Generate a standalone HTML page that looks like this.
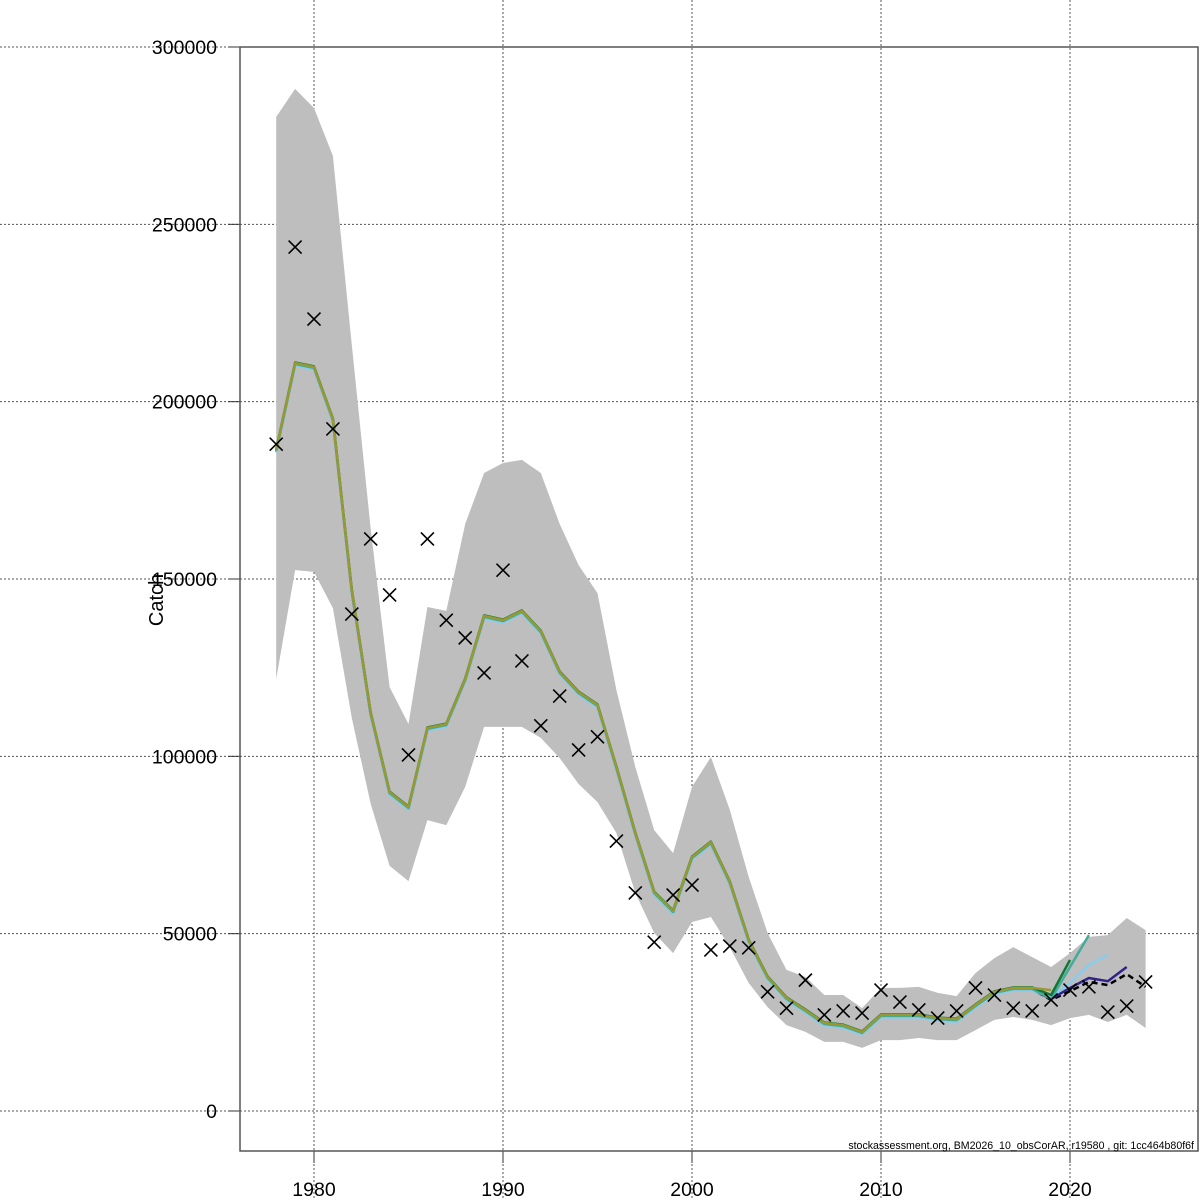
<!DOCTYPE html>
<html><head><meta charset="utf-8"><style>
html,body{margin:0;padding:0;background:#fff;}
svg{display:block;font-family:"Liberation Sans",sans-serif;}
</style></head><body>
<svg id="chart" width="1200" height="1200" viewBox="0 0 1200 1200">
<rect x="0" y="0" width="1200" height="1200" fill="#fff"/>
<g id="grid"></g>
<g id="band"></g>
<g id="lines"></g>
<g id="obs"></g>
<g id="axes"></g>
<text x="163" y="600" font-size="20" text-anchor="middle" transform="rotate(-90 163 600)">Catch</text>
<text x="1194" y="1149" font-size="10.6" text-anchor="end">stockassessment.org, BM2026_10_obsCorAR, r19580 , git: 1cc464b80f6f</text>
</svg>
<script>
const years = [];
for (let y = 1978; y <= 2024; y++) years.push(y);
const obsValues = [188,243.6,223.3,192.3,140.1,161.3,145.5,100.4,161.3,138.4,133.4,123.5,152.5,126.9,108.6,117,101.8,105.5,76.1,61.5,47.6,60.9,63.7,45.4,46.5,46,33.6,29,36.9,27.1,28.2,27.6,34.1,30.7,28.5,26.2,28.2,34.7,32.7,29,28.2,31.3,34.1,35,27.9,29.6,36.4];
const upperValues = [280.3,288.2,282.8,269.3,216,164.1,119.5,109.1,142.1,141,165.5,179.9,182.7,183.6,179.9,165.5,153.9,146,118.7,97,79.2,72.7,91.4,99.8,84.9,66,50.2,39.8,37.8,32.7,32.7,29,34.7,34.7,35,33.3,32.4,38.9,43.1,46.2,43.4,40.6,44.5,49.1,49.6,54.4,51];
const lowerValues = [121.8,152.5,152,141.8,110.8,86.6,69.1,64.8,82,80.6,91.4,108.3,108.3,108.3,105.2,99.5,92.2,87.1,78.4,61.5,50.2,44.5,53.3,54.7,46.2,36.1,29.3,24.2,22.3,19.5,19.5,17.8,20,20,20.6,20,20,22.8,25.7,26.5,25.7,24.2,26.2,27.1,25.1,27.1,23.4];
// fitted base 1978..2018
const baseFit = [186.4,210.9,209.8,195.1,146.9,112.2,89.9,85.7,108,109.1,121.8,139.6,138.4,141,135.3,123.8,118.1,114.5,97,78.4,61.7,56.4,71.6,75.8,64.6,48.2,37.8,31.9,28.5,24.8,24.2,22.3,27.1,27.1,27.1,26.2,25.9,29.9,33.6,34.7,34.7];
// tails from 2019
const tailBlack = [31.3,33.8,36.4,35.5,38.6,35];
const tailPurple = [31.6,34.7,37.5,36.6,40.6];
const tailLightBlue = [32,36.1,41.2,44];
const tailTeal = [31.6,40.6,49.6];
const tailGreen = [32.7,42.6];
const tailOlive = [34.1];
const yTicks = [0,50000,100000,150000,200000,250000,300000];
const xTicks = [1980,1990,2000,2010,2020];

const NS = "http://www.w3.org/2000/svg";
const L = 240, R = 1198, T = 47, B = 1151;
const xs = yr => 314 + (yr - 1980) * 18.9;
const ys = v => 1111 - v / 300000 * 1064;
const yk = v => ys(v * 1000);
function mk(tag, attrs, parent) {
  const e = document.createElementNS(NS, tag);
  for (const k in attrs) e.setAttribute(k, attrs[k]);
  parent.appendChild(e);
  return e;
}
const grid = document.getElementById('grid');
const axes = document.getElementById('axes');
yTicks.forEach(v => {
  const g = mk('line', {x1: 0, x2: 1200, y1: ys(v), y2: ys(v), stroke: '#555', 'stroke-width': 1, 'stroke-dasharray': '2,2'}, grid);
  
  
  const t = mk('line', {x1: 228, x2: 240, y1: ys(v), y2: ys(v), stroke: '#333'}, axes);
  
  
  const lb = mk('text', {x: 217, y: ys(v) + 7, 'font-size': 19.5, 'text-anchor': 'end', fill: '#000'}, axes);
  lb.textContent = v;
  
  
});
xTicks.forEach(v => {
  const g = mk('line', {x1: xs(v), x2: xs(v), y1: 0, y2: 1200, stroke: '#555', 'stroke-width': 1, 'stroke-dasharray': '2,2'}, grid);
  
  
  const t = mk('line', {x1: xs(v), x2: xs(v), y1: 1151, y2: 1163, stroke: '#333'}, axes);
  
  
  const lb = mk('text', {x: xs(v), y: 1196, 'font-size': 19.5, 'text-anchor': 'middle', fill: '#000'}, axes);
  lb.textContent = v;
  
  
});
const box = mk('rect', {x: L, y: T, width: R - L, height: B - T, fill: 'none', stroke: '#555', 'stroke-width': 1.5}, axes);



// band
let pts = years.map((y, i) => xs(y) + ',' + yk(upperValues[i]));
for (let i = years.length - 1; i >= 0; i--) pts.push(xs(years[i]) + ',' + yk(lowerValues[i]));
const band = mk('polygon', {points: pts.join(' '), fill: '#bebebe', stroke: 'none'}, document.getElementById('band'));



// lines
const linesG = document.getElementById('lines');
function drawRun(tail, color, w, dash, name, dy) {
  const vals = baseFit.concat(tail);
  const p = vals.map((v, i) => xs(1978 + i) + ',' + (yk(v) + (i < baseFit.length ? dy : 0))).join(' ');
  const attrs = {points: p, fill: 'none', stroke: color, 'stroke-width': w, 'stroke-linejoin': 'round'};
  if (dash) attrs['stroke-dasharray'] = dash;
  const e = mk('polyline', attrs, linesG);
  
  
}
drawRun(tailBlack, '#000', 2.5, '6,4', 'line-run-2024', 1);
drawRun(tailPurple, '#332288', 2.5, null, 'line-run-2023', 2);
drawRun(tailLightBlue, '#88ccee', 2.5, null, 'line-run-2022', 2.5);
drawRun(tailTeal, '#44aa99', 2.5, null, 'line-run-2021', 1);
drawRun(tailGreen, '#117733', 2.5, null, 'line-run-2020', -0.5);
drawRun(tailOlive, '#999933', 2.5, null, 'line-run-2019', 0);

// observations
const obsG = document.getElementById('obs');
obsValues.forEach((v, i) => {
  const cx = xs(years[i]), cy = yk(v), s = 6.5;
  const e = mk('path', {d: `M${cx-s},${cy-s}L${cx+s},${cy+s}M${cx-s},${cy+s}L${cx+s},${cy-s}`, stroke: '#000', 'stroke-width': 1.6, fill: 'none'}, obsG);
  
  
});
</script>
</body></html>
